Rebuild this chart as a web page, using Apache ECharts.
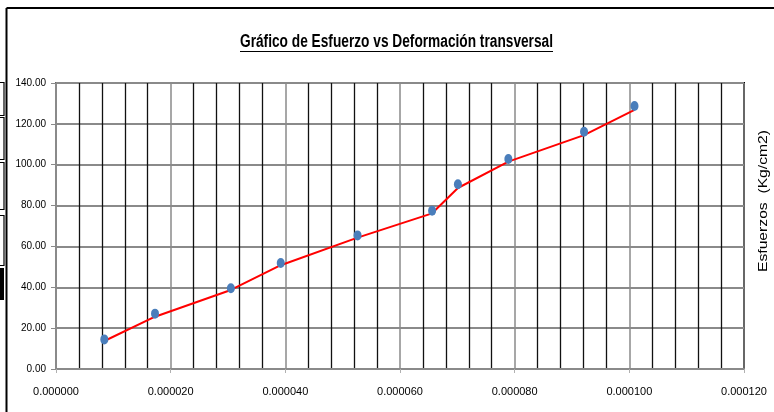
<!DOCTYPE html>
<html>
<head>
<meta charset="utf-8">
<script src="https://cdn.jsdelivr.net/npm/echarts@6/dist/echarts.min.js"></script>
<style>
  html, body { margin: 0; padding: 0; background: #fff; }
  #chart { width: 774px; height: 412px; }
</style>
</head>
<body>
<div id="chart"></div>
<script>
// Deformación transversal (eje X) y esfuerzo medido (eje Y, Kg/cm2)
const deformacion = [0.00000843, 0.00001727, 0.0000305, 0.0000392, 0.0000526, 0.0000656, 0.0000701, 0.0000789, 0.0000921, 0.0001009];
const esfuerzo = [14.5, 27.1, 39.5, 51.9, 65.4, 77.5, 90.4, 102.8, 116.1, 128.7];
// Curva trazada en rojo
const esfuerzoCurva = [13.7, 25.6, 38.7, 50.8, 64.3, 76.2, 88.6, 101.5, 114.5, 126.8];

// Escalas de los ejes
const xMin = 0, xMax = 0.00012, xStep = 0.00002, xDecimales = 6;
const yMin = 0, yMax = 140, yStep = 20, yDecimales = 2;

const titulo = 'Gráfico de Esfuerzo vs Deformación transversal';
const nombreEjeY = 'Esfuerzos  (Kg/cm2)';

const sans = "'Liberation Sans', Arial, sans-serif";
const titleFont = 'bold 18px ' + sans;
const nameFont = '12px ' + sans;

// medidas de texto para el título subrayado (condensado) y el nombre del eje
const ctx = document.createElement('canvas').getContext('2d');
ctx.font = titleFont;
const titleW = ctx.measureText(titulo).width;
const titleTargetW = 313;
const titleScale = titleTargetW / titleW;
ctx.font = nameFont;
const nameW = ctx.measureText(nombreEjeY).width;
const nameScale = 142 / nameW;
const titleCx = 396.5, titleCy = 42;

const chart = echarts.init(document.getElementById('chart'), null, { renderer: 'canvas' });

chart.setOption({
  animation: false,
  backgroundColor: '#fff',
  grid: {
    left: 56, right: 30, top: 83, bottom: 43,
    show: true, borderColor: '#000', borderWidth: 2, backgroundColor: 'transparent'
  },
  xAxis: {
    type: 'value', min: xMin, max: xMax, interval: xStep,
    axisLine: { show: true, lineStyle: { color: '#8a8a8a', width: 2 } },
    axisTick: { show: true, length: 4, lineStyle: { color: '#b0b0b0', width: 1 } },
    axisLabel: {
      margin: 17, color: '#000', fontSize: 11, fontFamily: sans,
      formatter: v => v.toFixed(xDecimales)
    },
    splitLine: { show: true, lineStyle: { color: '#8a8a8a', width: 1.5 } },
    minorTick: { show: false, splitNumber: 5 },
    minorSplitLine: { show: true, lineStyle: { color: '#111', width: 1.3 } }
  },
  yAxis: {
    type: 'value', min: yMin, max: yMax, interval: yStep,
    axisLine: { show: true, lineStyle: { color: '#8a8a8a', width: 2 } },
    axisTick: { show: true, length: 5, lineStyle: { color: '#8a8a8a', width: 1 } },
    axisLabel: {
      margin: 10, color: '#000', fontSize: 10, fontFamily: sans,
      formatter: v => v.toFixed(yDecimales)
    },
    splitLine: { show: true, lineStyle: { color: '#8a8a8a', width: 2 } }
  },
  series: [
    {
      type: 'line',
      data: deformacion.map((x, i) => [x, esfuerzoCurva[i]]),
      showSymbol: false,
      lineStyle: { color: '#ff0000', width: 2 },
      z: 3
    },
    {
      type: 'scatter',
      data: deformacion.map((x, i) => [x, esfuerzo[i]]),
      symbol: 'circle',
      symbolSize: [8, 10],
      itemStyle: { color: '#4a7ebb', opacity: 1 },
      z: 4
    }
  ],
  graphic: [
    // marco exterior
    { type: 'line', shape: { x1: 6.5, y1: 8, x2: 774, y2: 8 }, style: { stroke: '#000', lineWidth: 2 } },
    { type: 'line', shape: { x1: 6.5, y1: 8, x2: 6.5, y2: 412 }, style: { stroke: '#000', lineWidth: 2 } },
    // celdas vecinas en el borde izquierdo
    { type: 'rect', shape: { x: -2, y: 82.5, width: 6, height: 33 }, style: { fill: 'none', stroke: '#000', lineWidth: 1.2 } },
    { type: 'rect', shape: { x: -2, y: 117.5, width: 6, height: 42 }, style: { fill: 'none', stroke: '#000', lineWidth: 1.2 } },
    { type: 'rect', shape: { x: -2, y: 162.5, width: 6, height: 47 }, style: { fill: 'none', stroke: '#000', lineWidth: 1.2 } },
    { type: 'rect', shape: { x: -2, y: 215.5, width: 6, height: 50 }, style: { fill: 'none', stroke: '#000', lineWidth: 1.2 } },
    { type: 'rect', shape: { x: 0, y: 268, width: 4, height: 32 }, style: { fill: '#000' } },
    // título subrayado
    {
      type: 'text', x: titleCx, y: titleCy, scaleX: titleScale,
      style: { text: titulo, font: titleFont, fill: '#000', align: 'center', verticalAlign: 'middle' }
    },
    {
      type: 'line',
      shape: { x1: titleCx - titleTargetW / 2, y1: 51.5, x2: titleCx + titleTargetW / 2, y2: 51.5 },
      style: { stroke: '#000', lineWidth: 1.2 }
    },
    // nombre del eje de esfuerzos, a la derecha
    {
      type: 'text', x: 764, y: 201, rotation: Math.PI / 2, scaleX: nameScale,
      style: {
        text: nombreEjeY, font: nameFont,
        fill: '#000', align: 'center', verticalAlign: 'middle'
      }
    }
  ]
});
</script>
</body>
</html>
